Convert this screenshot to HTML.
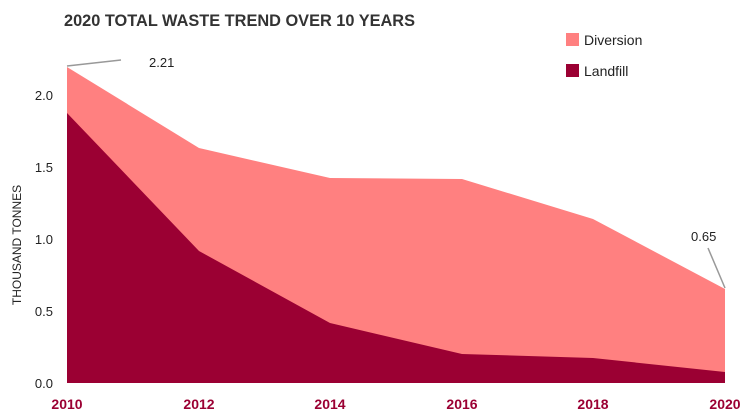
<!DOCTYPE html><html><head><style>body{margin:0;background:#fff}svg{display:block}text{font-family:"Liberation Sans",sans-serif}</style></head><body>
<svg width="750" height="420" xmlns="http://www.w3.org/2000/svg">
<text x="64" y="26" font-size="16.5" font-weight="bold" fill="#333" textLength="351" lengthAdjust="spacingAndGlyphs">2020 TOTAL WASTE TREND OVER 10 YEARS</text>
<rect x="566" y="33" width="13" height="13" fill="#ff8080"/><text x="584" y="45" font-size="14" fill="#222">Diversion</text>
<rect x="566" y="64" width="13" height="13" fill="#9b0033"/><text x="584" y="76" font-size="14" fill="#222">Landfill</text>
<polygon fill="#ff8080" points="67,67 199,148 330,178 462,179 593,219 725,289 725,383 67,383"/>
<polygon fill="#9b0033" points="67,113 199,251 330,323 462,354 593,358 725,372 725,383 67,383"/>
<polyline points="67,66 121,60" stroke="#999" stroke-width="1.5" fill="none"/>
<text x="149" y="67" font-size="13" fill="#222">2.21</text>
<polyline points="725,288 708,248" stroke="#999" stroke-width="1.5" fill="none"/>
<text x="691" y="241" font-size="13" fill="#222">0.65</text>
<g font-size="13" fill="#222" text-anchor="end">
<text x="53" y="388">0.0</text><text x="53" y="316">0.5</text><text x="53" y="244">1.0</text><text x="53" y="172">1.5</text><text x="53" y="100">2.0</text></g>
<text transform="translate(21,245) rotate(-90)" font-size="12" fill="#222" text-anchor="middle">THOUSAND TONNES</text>
<g font-size="14" font-weight="bold" fill="#9b0033" text-anchor="middle">
<text x="67" y="409">2010</text><text x="199" y="409">2012</text><text x="330" y="409">2014</text><text x="462" y="409">2016</text><text x="593" y="409">2018</text><text x="725" y="409">2020</text></g>
</svg></body></html>
